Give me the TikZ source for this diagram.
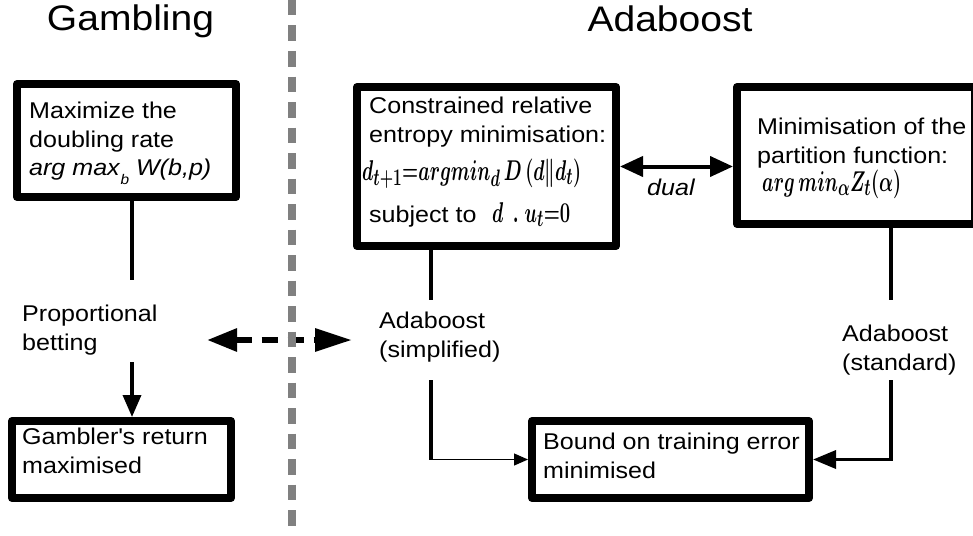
\documentclass[tikz,border=0pt]{standalone}
\usepackage{fontspec}
\setmainfont{Liberation Sans}[FakeStretch=1.1]
\usepackage{graphicx}
\usetikzlibrary{arrows.meta}
\tikzset{
  box/.style={draw, line width=8pt, line join=round, inner sep=0pt},
  txt/.style={inner sep=0pt, align=left, font=\fontsize{22.8}{28.5}\selectfont},
  ttl/.style={inner sep=0pt, font=\fontsize{35.5}{40}\selectfont},
  frm/.style={inner sep=0pt},
  conn/.style={line width=3.5pt},
  sepline/.style={draw=gray, line width=8pt, dash pattern=on 15.5pt off 10pt},
}
\newcommand{\fml}[1]{\scalebox{0.74}[1.15]{\fontsize{24.88}{30}\selectfont\boldmath$#1$}}
\begin{document}
\begin{tikzpicture}[x=1pt,y=-1pt]
\useasboundingbox (0,0) rectangle (973,535);
\clip (0,0) rectangle (973,535);

% titles
\node[ttl, anchor=base] (tg) at (130.5,31) {Gambling};
\node[ttl, anchor=base] (ta) at (670,32) {Adaboost};

% boxes
\node[box, minimum width=219pt, minimum height=113pt] (b1) at (126.5,140.5) {};
\node[box, minimum width=219pt, minimum height=77pt] (b3) at (121.5,459.5) {};
\node[box, minimum width=259pt, minimum height=159pt] (b2) at (486.5,166.5) {};
\node[box, minimum width=238pt, minimum height=137pt] (b4) at (856,155.5) {};
\node[box, minimum width=277pt, minimum height=77pt] (b5) at (670.5,459.5) {};

% box texts
\node[txt, anchor=north west] (t1) at (29,102) {Maximize the\\doubling rate\\\textit{arg max}\raisebox{-9pt}{\fontsize{14}{14}\selectfont\textit{b}} \textit{W(b,p)}};
\node[txt, anchor=north west] (t3) at (22,428) {Gambler\textquotesingle s return\\maximised};
\node[txt, anchor=north west] (t5) at (543,433) {Bound on training error\\minimised};
\node[txt, anchor=north west] (t2) at (369,97) {Constrained relative\\entropy minimisation:};
\node[frm, anchor=base west] (f1) at (362,180) {\fml{d_{t+1}{=}argmin_d\,D\left(d\middle\|d_t\right)}};
\node[txt, anchor=base west] (s1) at (369,222) {subject to};
\node[frm, anchor=base west] (f2) at (492,222) {\fml{d\;\,.\;u_t{=}0}};
\node[txt, anchor=north west] (t4) at (757,118) {Minimisation of the\\partition function:};
\node[frm, anchor=base west] (f3) at (762,191) {\fml{arg\,min_\alpha Z_t(\alpha)}};

% labels
\node[txt, anchor=north west] (pb) at (22,305) {Proportional\\betting};
\node[txt, anchor=north west] (as) at (379,312) {Adaboost\\(simplified)};
\node[txt, anchor=north west] (ad) at (842,325) {Adaboost\\(standard)};
\node[txt, anchor=base west] (du) at (647,195) {\textit{dual}};

% connectors
\coordinate (c1) at (132,280);
\draw[conn] (c1 |- b1.south) -- (c1);
\coordinate (c2) at (132,362);
\draw[conn, -{Triangle[length=22pt,width=18pt]}] (c2) -- (c2 |- b3.north);
\coordinate (c3) at (431,300);
\draw[conn] (c3 |- b2.south) -- (c3);
\coordinate (c4) at (891,300);
\draw[conn] (c4 |- b4.south) -- (c4);
\coordinate (c5) at (431,380);
\draw[conn] (c5) -- (c5 |- b5.west);
\draw[line width=1.2pt, -{Triangle[length=14pt,width=12pt]}] (c5 |- b5.west) -- (b5.west);
\coordinate (c6) at (891,380);
\draw[conn, -{Triangle[length=23pt,width=18pt]}] (c6) |- (b5.east);
\draw[line width=4pt, {Triangle[length=23pt,width=20pt]}-{Triangle[length=23pt,width=20pt]}] (b2.east) -- (b2.east -| b4.west);

\coordinate (dl) at (207,340);
\coordinate (dr) at (352,340);
\draw[line width=6pt, dash pattern=on 16pt off 10pt, {Triangle[length=30pt,width=22pt]}-{Triangle[length=37pt,width=22pt]}] (dl) -- (dr);

\draw[sepline] (292,0) -- (292,535);
\end{tikzpicture}
\end{document}
